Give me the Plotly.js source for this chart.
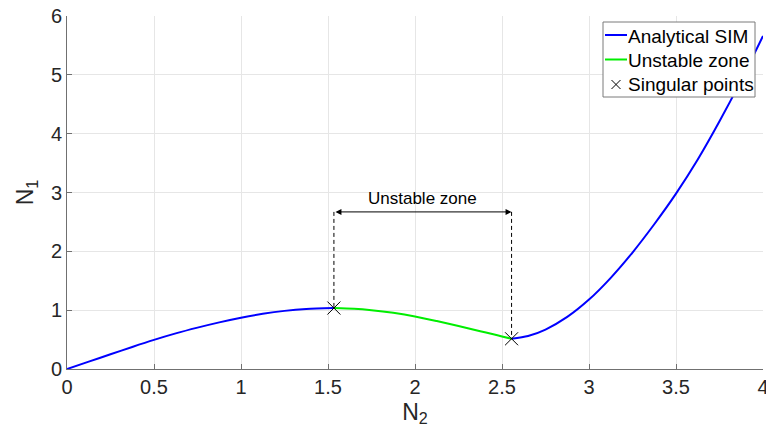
<!DOCTYPE html>
<html>
<head>
<meta charset="utf-8">
<script src="https://cdn.plot.ly/plotly-3.0.1.min.js"></script>
<style>html,body{margin:0;padding:0;background:#fff;}#chart{width:766px;height:438px;}</style>
</head>
<body>
<div id="chart"></div>
<script>
// Analytical SIM, stable branch before first singular point
const simN2a = [0, 0.125, 0.25, 0.375, 0.5, 0.625, 0.75, 0.875, 1.0, 1.125, 1.25, 1.375, 1.534];
const simN1a = [0, 0.125, 0.25, 0.375, 0.495, 0.605, 0.703, 0.793, 0.872, 0.938, 0.988, 1.020, 1.036];
// Analytical SIM, branch after second singular point
const simN2b = [2.555, 2.65, 2.75, 2.875, 3.0, 3.125, 3.25, 3.375, 3.5, 3.625, 3.75, 3.875, 4.0];
const simN1b = [0.514, 0.56, 0.67, 0.885, 1.18, 1.55, 1.98, 2.46, 2.98, 3.56, 4.21, 4.91, 5.66];
// Unstable zone
const unstN2 = [1.534, 1.65, 1.75, 1.875, 2.0, 2.125, 2.25, 2.375, 2.45, 2.5, 2.555];
const unstN1 = [1.036, 1.024, 1.0, 0.955, 0.894, 0.815, 0.73, 0.643, 0.59, 0.553, 0.514];
// Singular points
const singN2 = [1.534, 2.555];
const singN1 = [1.036, 0.514];
// Unstable-zone marker height
const arrowN1 = 2.67;
const labelN1 = 2.9;
const xTicks = [0, 0.5, 1, 1.5, 2, 2.5, 3, 3.5, 4];
const xTickText = ['0', '0.5', '1', '1.5', '2', '2.5', '3', '3.5', '4'];
const yTicks = [0, 1, 2, 3, 4, 5, 6];
const legendNames = ['Analytical SIM', 'Unstable zone', 'Singular points'];

const font = 'Liberation Sans, Arial, Helvetica, sans-serif';
const blue = '#0000ff', green = '#00ee00';

const traces = [
  {x: simN2a.concat([null]).concat(simN2b), y: simN1a.concat([null]).concat(simN1b),
   mode: 'lines', name: legendNames[0], line: {color: blue, width: 2, shape: 'spline', smoothing: 0.8},
   connectgaps: false},
  {x: unstN2, y: unstN1, mode: 'lines', name: legendNames[1],
   line: {color: green, width: 2, shape: 'spline', smoothing: 0.8}},
  {x: singN2, y: singN1, mode: 'markers', name: legendNames[2],
   marker: {symbol: 'x-thin-open', size: 13, color: '#000', line: {color: '#000', width: 1}}},
  {x: [singN2[0], singN2[0]], y: [arrowN1, singN1[0]], mode: 'lines', showlegend: false,
   line: {color: '#000', width: 1, dash: '4px,3px'}, hoverinfo: 'skip'},
  {x: [singN2[1], singN2[1]], y: [arrowN1, singN1[1]], mode: 'lines', showlegend: false,
   line: {color: '#000', width: 1, dash: '4px,3px'}, hoverinfo: 'skip'}
];

// legend box (drawn in paper coordinates, MATLAB-like compact legend)
const W = 766, H = 438, ML = 67, MR = 3, MT = 16, MB = 69;
const px = v => (v - ML) / (W - ML - MR);
const py = v => (H - MB - v) / (H - MT - MB);
const lg = {x0: 603, x1: 755, y0: 22, y1: 97, rows: [36.5, 60.5, 84.5], lineX0: 605, lineX1: 627, textX: 627};

const shapes = [
  {type: 'rect', xref: 'paper', yref: 'paper', x0: px(lg.x0), x1: px(lg.x1), y0: py(lg.y1), y1: py(lg.y0),
   fillcolor: '#fff', line: {color: '#7a7a7a', width: 1}, layer: 'above'},
  {type: 'line', xref: 'paper', yref: 'paper', x0: px(lg.lineX0), x1: px(lg.lineX1),
   y0: py(lg.rows[0] - 1.5), y1: py(lg.rows[0] - 1.5), line: {color: blue, width: 2}, layer: 'above'},
  {type: 'line', xref: 'paper', yref: 'paper', x0: px(lg.lineX0), x1: px(lg.lineX1),
   y0: py(lg.rows[1] - 1), y1: py(lg.rows[1] - 1), line: {color: green, width: 2}, layer: 'above'},
  {type: 'line', xref: 'paper', yref: 'paper', x0: px(611.5), x1: px(620.5),
   y0: py(lg.rows[2] - 4.5), y1: py(lg.rows[2] + 4.5), line: {color: '#000', width: 1}, layer: 'above'},
  {type: 'line', xref: 'paper', yref: 'paper', x0: px(611.5), x1: px(620.5),
   y0: py(lg.rows[2] + 4.5), y1: py(lg.rows[2] - 4.5), line: {color: '#000', width: 1}, layer: 'above'}
];

const legendAnn = legendNames.map((t, i) => ({
  xref: 'paper', yref: 'paper', x: px(lg.textX), y: py(lg.rows[i]), xanchor: 'left', yanchor: 'middle',
  text: t, showarrow: false, borderpad: 0, font: {family: font, size: 19, color: '#000'}
}));

const layout = {
  width: W, height: H,
  margin: {l: ML, r: MR, t: MT, b: MB},
  paper_bgcolor: '#fff', plot_bgcolor: '#fff',
  font: {family: font, color: '#262626'},
  showlegend: false,
  xaxis: {range: [0, 4], tickvals: xTicks, ticktext: xTickText, ticklabeloverflow: 'allow',
          showgrid: true, gridcolor: '#e6e6e6', gridwidth: 1,
          zeroline: false, showline: true, linecolor: '#707070', linewidth: 1,
          ticks: 'inside', ticklen: 5, tickcolor: '#707070',
          tickfont: {family: font, size: 20, color: '#262626'},
          title: {text: 'N<sub>2</sub>', font: {family: font, size: 23, color: '#262626'}, standoff: 6},
          mirror: false},
  yaxis: {range: [0, 6], tickvals: yTicks,
          showgrid: true, gridcolor: '#e6e6e6', gridwidth: 1,
          zeroline: false, showline: true, linecolor: '#707070', linewidth: 1,
          ticks: 'inside', ticklen: 5, tickcolor: '#707070',
          tickfont: {family: font, size: 20, color: '#262626'},
          title: {text: 'N<sub>1</sub>', font: {family: font, size: 23, color: '#262626'}, standoff: 10}},
  shapes: shapes,
  annotations: [
    {x: singN2[1], y: arrowN1, ax: singN2[0], ay: arrowN1, xref: 'x', yref: 'y', axref: 'x', ayref: 'y',
     text: '', showarrow: true, arrowside: 'end+start', arrowhead: 2, arrowsize: 1.2, arrowwidth: 1, arrowcolor: '#000'},
    {x: (singN2[0] + singN2[1]) / 2, y: labelN1, xref: 'x', yref: 'y', text: 'Unstable zone',
     showarrow: false, font: {family: font, size: 17, color: '#000'}}
  ].concat(legendAnn)
};

Plotly.newPlot('chart', traces, layout, {displayModeBar: false, staticPlot: true});
</script>
</body>
</html>
